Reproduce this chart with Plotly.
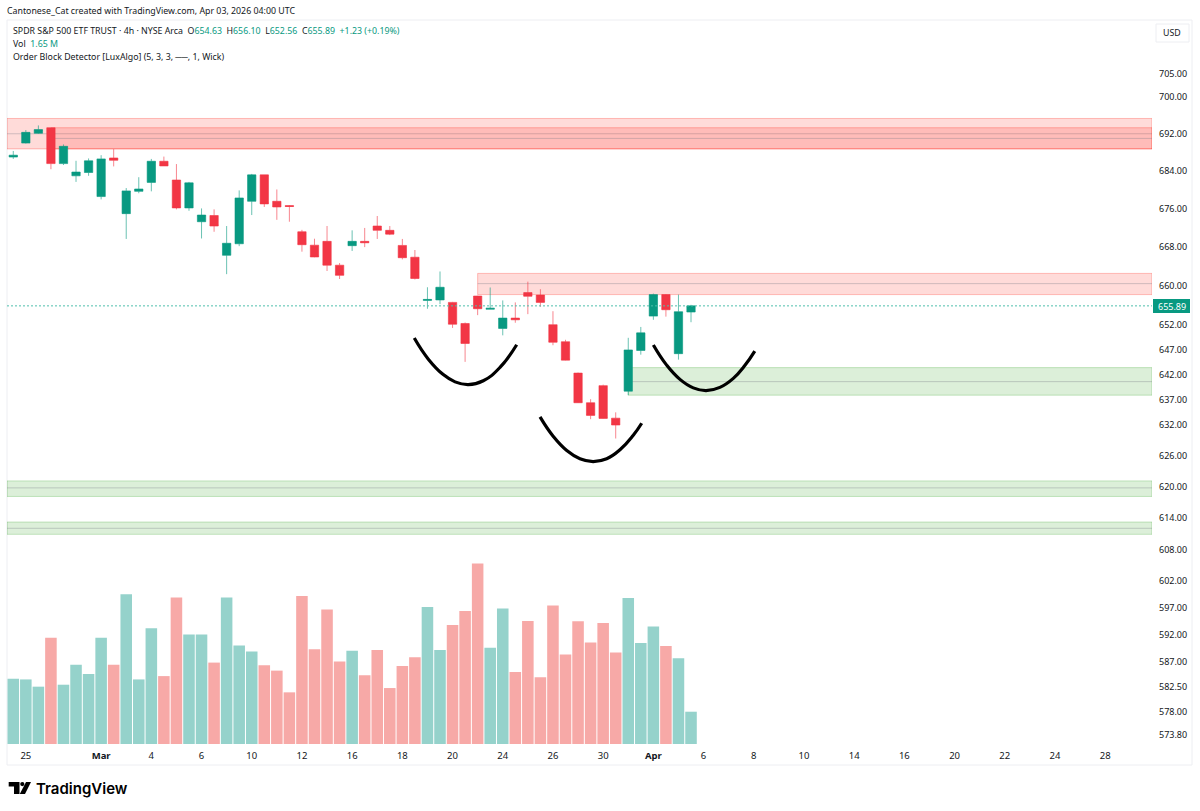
import plotly.graph_objects as go

# Data (SPY 4h)
bar_index = list(range(55))
opens = [687.0, 690.0, 692.1, 693.3, 685.6, 683.0, 683.7, 678.6, 686.8, 675.0, 679.7, 681.6, 686.1, 682.1,
         676.2, 673.3, 674.6, 666.3, 668.7, 677.6, 683.2, 677.6, 676.7, 671.2, 668.4, 669.2, 664.25, 668.3,
         669.2, 672.4, 671.5, 668.35, 665.9, 657.0, 657.1, 656.6, 652.3, 657.9, 655.2, 651.3, 653.4, 658.6,
         658.1, 652.05, 648.6, 642.3, 636.4, 639.8, 633.35, 638.7, 646.85, 653.8, 658.2, 646.2, 654.63]
highs = [688.3, 692.8, 693.8, 693.3, 689.7, 686.2, 686.7, 687.4, 688.7, 680.4, 682.7, 686.6, 687.1, 685.5,
         681.7, 676.1, 675.9, 672.4, 679.9, 683.4, 683.2, 680.1, 676.8, 671.6, 669.75, 672.4, 664.7, 671.5,
         672.0, 674.5, 672.4, 669.7, 667.4, 659.7, 662.95, 656.7, 652.5, 657.95, 659.65, 657.0, 656.6, 660.85,
         659.3, 654.8, 649.0, 642.4, 637.1, 640.0, 634.5, 649.4, 651.6, 658.4, 658.3, 658.2, 656.10]
lows = [686.6, 689.9, 692.0, 684.4, 685.3, 681.7, 683.0, 678.0, 685.0, 669.7, 679.3, 679.7, 685.1, 675.9,
        675.6, 669.8, 671.2, 662.4, 668.2, 674.7, 676.4, 673.7, 673.3, 667.05, 665.9, 663.05, 661.4, 667.2,
        668.0, 669.7, 670.5, 665.45, 661.3, 655.3, 656.25, 651.4, 644.55, 654.0, 655.2, 649.9, 652.45, 654.2,
        655.7, 647.9, 644.85, 636.35, 633.15, 633.25, 629.35, 637.9, 646.0, 653.05, 653.7, 645.0, 652.56]
closes = [687.4, 692.3, 692.9, 685.6, 689.3, 683.8, 686.2, 686.6, 686.3, 679.8, 680.2, 686.1, 685.1, 676.2,
          681.5, 674.7, 672.4, 668.8, 678.3, 683.2, 677.05, 676.4, 676.5, 668.5, 665.95, 664.25, 662.15, 669.2,
          668.9, 671.5, 670.7, 665.8, 661.5, 657.2, 659.7, 652.15, 648.25, 655.3, 655.4, 653.4, 653.05, 657.85,
          656.6, 648.5, 644.9, 636.4, 633.9, 633.3, 632.0, 646.95, 650.4, 658.2, 655.1, 654.7, 655.89]
# volume in millions
volumes = [3.34, 3.30, 2.93, 5.43, 3.03, 4.05, 3.58, 5.43, 4.05, 7.65, 3.30, 5.91, 3.47, 7.49, 5.60, 5.60,
           4.16, 7.49, 5.04, 4.73, 4.02, 3.75, 2.64, 7.56, 4.84, 6.88, 4.22, 4.77, 3.51, 4.80, 2.86, 3.99,
           4.43, 7.00, 4.80, 6.08, 6.80, 9.23, 4.92, 6.93, 3.68, 6.28, 3.41, 7.08, 4.58, 6.27, 5.19, 6.18,
           4.68, 7.46, 5.16, 6.01, 5.01, 4.38, 1.65]

price_ticks = [705, 700, 692, 684, 676, 668, 660, 652, 647, 642, 637, 632, 626, 620, 614, 608, 602, 597,
               592, 587, 582.5, 578, 573.8]
time_ticks = [1, 7, 11, 15, 19, 23, 27, 31, 35, 39, 43, 47, 51, 55, 59, 63, 67, 71, 75, 79, 83, 87]
time_labels = ["25", "<b>Mar</b>", "4", "6", "10", "12", "16", "18", "20", "24", "26", "30", "<b>Apr</b>",
               "6", "8", "10", "14", "16", "20", "22", "24", "28"]

# order blocks: start bar, top, bottom, middle
zone_start = [-0.5, 3, 37, 49, -0.5, -0.5]
zone_top = [695.3, 693.3, 662.55, 643.4, 621.1, 613.2]
zone_bottom = [688.75, 688.75, 658.2, 637.9, 618.1, 610.85]
zone_mid = [692.0, 691.0, 660.45, 640.6, 619.75, 612.0]
zone_bull = [False, False, False, True, True, True]

# hand drawn arcs
arc1_x = [31.95, 33.07, 34.26, 35.2, 36.25, 37.45, 38.78, 40.11]
arc1_y = [649.35, 645.1, 642.0, 640.55, 640.0, 640.77, 643.44, 648.0]
arc2_x = [41.97, 43.03, 44.1, 45.15, 46.2, 47.28, 48.34, 49.4, 50.07]
arc2_y = [633.6, 629.75, 627.0, 625.4, 624.85, 625.4, 627.15, 630.0, 632.35]
arc3_x = [51, 52.06, 53.12, 54.18, 55.2, 56.3, 57.37, 58.3, 59.08]
arc3_y = [647.95, 643.9, 641.05, 639.35, 638.8, 639.45, 641.25, 643.85, 646.7]

UP = "#089981"
DOWN = "#F23645"
TEXT = "#131722"
BORDER = "#EDEEF2"
FONT = "Noto Sans"
W, H = 1200, 811
L, R, T, B = 7, 1152, 20, 744
X_END = 90.73


def px(x):
    return (x - L) / (R - L)


def py(y):
    return (B - y) / (B - T)


def label(x, y, text, size=8.8, color=TEXT, anchor="left", family=FONT, weight="normal"):
    return dict(xref="paper", yref="paper", x=px(x), y=py(y), text=text, showarrow=False, xanchor=anchor,
                yanchor="middle", font=dict(size=size, color=color, family=family, weight=weight),
                borderpad=0, borderwidth=0)


def poly(points):
    return "M " + " L ".join(f"{px(a):.5f},{py(b):.5f}" for a, b in points) + " Z"


fig = go.Figure()

# Volume
vol_colors = ["#95D2CB" if c >= o else "#F7A9A7" for o, c in zip(opens, closes)]
fig.add_trace(go.Bar(x=bar_index, y=volumes, marker=dict(color=vol_colors, line=dict(width=0)), yaxis="y",
                     hoverinfo="skip"))

# Candles
fig.add_trace(go.Candlestick(
    x=bar_index, open=opens, high=highs, low=lows, close=closes, yaxis="y2", whiskerwidth=0,
    increasing=dict(fillcolor=UP, line=dict(color="rgba(8,153,129,0.6)", width=1)),
    decreasing=dict(fillcolor=DOWN, line=dict(color="rgba(242,54,69,0.6)", width=1)),
))

# Arcs
for ax, ay in [(arc1_x, arc1_y), (arc2_x, arc2_y), (arc3_x, arc3_y)]:
    fig.add_trace(go.Scatter(x=ax, y=ay, mode="lines", yaxis="y2", hoverinfo="skip",
                             line=dict(color="#000000", width=3.2, shape="spline", smoothing=1.3)))

shapes = []
# Order block zones
for start, top, bottom, mid, bull in zip(zone_start, zone_top, zone_bottom, zone_mid, zone_bull):
    fill = "rgba(22,148,0,0.15)" if bull else "rgba(255,30,20,0.16)"
    edge = "rgba(22,148,0,0.22)" if bull else "rgba(255,17,0,0.25)"
    shapes.append(dict(type="rect", xref="x", yref="y2", x0=start, x1=X_END, y0=bottom, y1=top, fillcolor=fill,
                       line=dict(color=edge, width=1), layer="below"))
    shapes.append(dict(type="line", xref="x", yref="y2", x0=start, x1=X_END, y0=mid, y1=mid,
                       line=dict(color="rgba(120,123,134,0.35)", width=1), layer="below"))

# last price line
shapes.append(dict(type="line", xref="paper", yref="y2", x0=0, x1=1, y0=closes[-1], y1=closes[-1],
                   line=dict(color="#4FBFAD", width=1, dash="2px,2px")))
shapes.append(dict(type="rect", xref="paper", yref="paper", x0=px(1153), x1=px(1190), y0=py(313), y1=py(299),
                   fillcolor=UP, line=dict(width=0)))

# Pane border and USD button
shapes.append(dict(type="rect", xref="paper", yref="paper", x0=px(7), x1=px(1192), y0=py(765), y1=py(20),
                   line=dict(color=BORDER, width=1), layer="below"))
shapes.append(dict(type="rect", xref="paper", yref="paper", x0=px(1156), x1=px(1189), y0=py(42), y1=py(24),
                   line=dict(color=BORDER, width=1)))

# TradingView logo
shapes.append(dict(type="path", xref="paper", yref="paper", fillcolor="#000000", line=dict(width=0),
                   path=poly([(8.7, 782), (19.5, 782), (19.5, 794), (14, 794), (14, 786.5), (8.7, 786.5)])))
shapes.append(dict(type="circle", xref="paper", yref="paper", fillcolor="#000000", line=dict(width=0),
                   x0=px(20.2), x1=px(24.4), y0=py(786.2), y1=py(782)))
shapes.append(dict(type="path", xref="paper", yref="paper", fillcolor="#000000", line=dict(width=0),
                   path=poly([(26, 782), (31, 782), (25, 794), (19.8, 794)])))

green = f"color:{UP}"
annotations = [
    label(7, 11, "Cantonese_Cat created with TradingView.com, Apr 03, 2026 04:00 UTC"),
    label(13, 31, f"SPDR S&amp;P 500 ETF TRUST · 4h · NYSE Arca  O<span style='{green}'>654.63</span>  "
                  f"H<span style='{green}'>656.10</span>  L<span style='{green}'>652.56</span>  "
                  f"C<span style='{green}'>655.89</span>  <span style='{green}'>+1.23 (+0.19%)</span>"),
    label(13, 44.5, f"Vol  <span style='{green}'>1.65 M</span>"),
    label(13, 57.5, "Order Block Detector [LuxAlgo] (5, 3, 3, ──, 1, Wick)"),
    label(1171.5, 33, "USD", anchor="center"),
    label(1171.5, 306, "655.89", size=9, color="#FFFFFF", anchor="center"),
    label(36, 788, "TradingView", size=15, color="#000000", family="Inter", weight=600),
]

fig.update_layout(
    width=W, height=H,
    margin=dict(l=L, r=W - R, t=T, b=H - B, pad=0),
    paper_bgcolor="#FFFFFF", plot_bgcolor="rgba(0,0,0,0)",
    showlegend=False, bargap=0.08, boxgap=0.05,
    font=dict(family=FONT, size=9, color=TEXT),
    xaxis=dict(range=[-0.5, X_END], tickmode="array", tickvals=time_ticks, ticktext=time_labels, showgrid=False,
               zeroline=False, showline=False, ticks="", rangeslider=dict(visible=False),
               tickfont=dict(size=9.5, color=TEXT), ticklabelstandoff=4),
    yaxis=dict(range=[0, 37], visible=False, fixedrange=True),
    yaxis2=dict(type="log", range=[2.75758, 2.85549], overlaying="y", side="right", anchor="x", showgrid=False,
                zeroline=False, showline=False, ticks="", tickmode="array", tickvals=price_ticks,
                ticktext=[f"{v:.2f}" for v in price_ticks], tickfont=dict(size=9, color=TEXT), ticklabelstandoff=6),
    shapes=shapes, annotations=annotations,
)

fig.write_html("out.html", config={"displayModeBar": False}, post_script="document.body.style.margin='0';")
